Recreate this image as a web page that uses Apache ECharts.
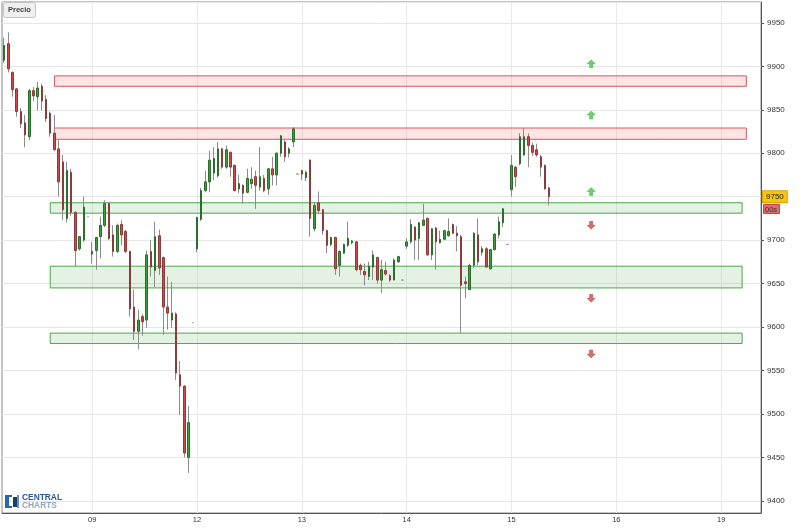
<!DOCTYPE html>
<html><head><meta charset="utf-8">
<script src="https://cdn.jsdelivr.net/npm/echarts@6/dist/echarts.min.js"></script>
<style>html,body{margin:0;padding:0;background:#fff}#c{width:806px;height:528px}</style>
</head><body><div id="c"></div>
<script>
// ---- data ----
const dayLabels = ['08','09','12','13','14','15','16','19'];
const slotsPerDay = [21,25,25,25,25,25,25,10];
const opens = [9907,9926,9893,9874,9848,9835,9819,9872,9865,9877,9862,9846,9823,9805,9790,9725,9778,9732,9690,9700,9727,
9684,9688,9704,9717,9742,9706,9687,9718,9710,9687,9623,9595,9612,9608,9687,9665,9705,9680,9623,9608,9615,9545,9532,9450,9605,
9690,9724,9757,9767,9777,9774,9805,9784,9801,9786,9759,9763,9755,9765,9773,9761,9771,9759,9782,9775,9800,9813,9800,9813,9776,
9780,9772,9792,9713,9743,9735,9711,9695,9703,9671,9685,9694,9697,9698,9671,9664,9658,9669,9680,9654,9665,9659,9654,9675,9654,
9693,9698,9715,9702,9717,9725,9683,9714,9697,9701,9705,9718,9708,9704,9652,9643,9671,9706,9686,9690,9667,9689,9706,9720,9695,
9758,9784,9788,9798,9819,9809,9804,9796,9786,9760];
const closes = [9924,9897,9873,9848,9834,9821,9872,9866,9875,9860,9840,9823,9804,9767,9735,9780,9732,9688,9704,9738,9727,
9687,9703,9717,9742,9702,9687,9717,9706,9687,9621,9595,9608,9606,9683,9669,9704,9668,9623,9616,9616,9547,9532,9455,9490,9605,
9726,9757,9767,9792,9794,9805,9784,9804,9784,9757,9765,9754,9771,9770,9763,9773,9757,9782,9775,9800,9820,9796,9805,9828,9776,
9776,9778,9725,9740,9734,9711,9694,9703,9667,9687,9695,9702,9699,9666,9666,9660,9670,9683,9654,9666,9661,9654,9677,9681,9654,
9698,9718,9700,9720,9723,9683,9713,9698,9701,9711,9710,9708,9705,9648,9650,9671,9708,9675,9690,9669,9689,9707,9721,9736,9695,
9786,9773,9819,9819,9809,9801,9798,9784,9759,9750];
const lows = [9904,9893,9865,9842,9829,9807,9815,9860,9849,9849,9836,9819,9803,9750,9723,9720,9728,9669,9688,9698,9727,
9673,9666,9679,9715,9700,9681,9685,9694,9685,9612,9585,9574,9590,9599,9658,9646,9660,9591,9597,9599,9539,9499,9450,9432,9605,
9686,9722,9755,9755,9769,9772,9782,9782,9773,9756,9754,9742,9754,9759,9736,9757,9755,9752,9763,9763,9796,9790,9795,9807,9776,
9769,9768,9704,9710,9731,9706,9685,9693,9660,9658,9684,9692,9695,9664,9660,9648,9654,9654,9650,9639,9659,9652,9654,9674,9654,
9690,9696,9677,9677,9716,9682,9677,9666,9696,9700,9704,9707,9687,9593,9633,9643,9668,9671,9682,9668,9666,9688,9702,9715,9695,
9750,9761,9786,9797,9784,9797,9796,9773,9758,9740];
const highs = [9933,9939,9894,9875,9852,9844,9874,9876,9882,9880,9867,9848,9844,9815,9798,9790,9782,9733,9705,9750,9727,
9698,9704,9727,9746,9744,9717,9719,9723,9712,9688,9643,9620,9615,9688,9700,9721,9712,9681,9658,9652,9617,9561,9533,9509,9605,
9727,9760,9780,9803,9807,9813,9806,9809,9802,9787,9775,9764,9782,9784,9780,9807,9775,9783,9796,9801,9821,9815,9807,9830,9776,
9781,9780,9793,9744,9756,9736,9712,9704,9704,9688,9696,9721,9700,9699,9673,9673,9675,9688,9681,9677,9675,9661,9679,9682,9654,
9702,9724,9716,9721,9742,9726,9714,9715,9711,9712,9725,9719,9716,9706,9658,9673,9709,9725,9693,9692,9690,9708,9727,9737,9695,
9798,9785,9823,9829,9823,9812,9811,9798,9787,9761];
const zoneLow  = [9877, 9816, 9731, 9645, 9581];
const zoneHigh = [9889, 9829, 9743, 9670, 9593];
const zoneKind = ['res','res','sup','sup','sup'];
const zoneStartSlot = [12, 12, 11, 11, 11];
const zoneEndSlot   = [177, 177, 176, 176, 176];
const arrowSlot = 140;
const arrowUpLevels = [9903, 9844, 9756];
const arrowDownLevels = [9717, 9633, 9569];
const countdownText = '00s';

// ---- build ----
const categories = [];
dayLabels.forEach((d, i) => {
  const n = slotsPerDay[i];
  const first = 25 - n > 0 && i === 0 ? 25 - n : 0;
  for (let k = 0; k < n; k++) categories.push(d + ':' + (first + k));
});
const isDayStart = (idx, v) => String(v).split(':')[1] === '0';
const wickData = opens.map((o, i) => [o, closes[i], lows[i], highs[i]]);
const bodyData = opens.map((o, i) => [o, closes[i], Math.min(o, closes[i]), Math.max(o, closes[i])]);
const zoneStyle = {
  res: {color: 'rgba(245,110,110,0.18)', borderColor: '#e05555', borderWidth: 1},
  sup: {color: 'rgba(90,175,90,0.16)', borderColor: '#4ea64e', borderWidth: 1}
};
const zones = zoneLow.map((lo, i) => [
  {xAxis: zoneStartSlot[i], yAxis: zoneHigh[i], itemStyle: zoneStyle[zoneKind[i]]},
  {xAxis: zoneEndSlot[i], yAxis: lo}
]);
const upArrow = 'path://M4,0 L8,4 L5.6,4 L5.6,8 L2.4,8 L2.4,4 L0,4 Z';
const downArrow = 'path://M2.4,0 L5.6,0 L5.6,4 L8,4 L4,8 L0,4 L2.4,4 Z';
const lastClose = closes[closes.length - 1];

const chart = echarts.init(document.getElementById('c'), null, {renderer: 'canvas'});
chart.setOption({
  animation: false,
  backgroundColor: '#ffffff',
  grid: {left: 2, right: 45, top: 2, bottom: 15, show: true, borderColor: '#8a8a8a', borderWidth: 1, backgroundColor: 'transparent'},
  xAxis: {
    type: 'category', data: categories, boundaryGap: true,
    axisLine: {lineStyle: {color: '#555', width: 1}},
    axisTick: {show: false},
    axisLabel: {interval: isDayStart, formatter: v => v.split(':')[0], fontSize: 7.5, color: '#333', margin: 3, fontFamily: 'Liberation Sans, Arial, sans-serif'},
    splitLine: {show: true, interval: isDayStart, alignWithLabel: true, lineStyle: {color: '#e9e9e9', width: 1}}
  },
  yAxis: {
    type: 'value', position: 'right', min: 9386, max: 9974, splitNumber: 12, minInterval: 50, maxInterval: 50,
    axisLine: {show: true, lineStyle: {color: '#555', width: 1}},
    axisTick: {show: true, length: 3, lineStyle: {color: '#555'}},
    axisLabel: {fontSize: 8, color: '#333', margin: 6, showMinLabel: false, showMaxLabel: false, formatter: v => String(v), fontFamily: 'Liberation Sans, Arial, sans-serif'},
    splitLine: {show: true, lineStyle: {color: '#e6e6e6', width: 1}}
  },
  series: [
    {
      type: 'candlestick', name: 'wick', data: wickData, barWidth: 1, silent: true, z: 2,
      itemStyle: {color: '#8c8c8c', color0: '#8c8c8c', borderColor: '#8c8c8c', borderColor0: '#8c8c8c', borderColorDoji: '#8c8c8c', borderWidth: 1},
      markArea: {silent: true, z: 1, data: zones}
    },
    {
      type: 'candlestick', name: 'body', data: bodyData, barWidth: 2, silent: true, z: 3,
      itemStyle: {color: '#37a237', color0: '#cf4747', borderColor: '#2b6e2b', borderColor0: '#8d3a3a', borderColorDoji: '#8c8c8c', borderWidth: 1},
      markLine: {
        silent: true, symbol: ['none', 'none'],
        lineStyle: {color: 'transparent', width: 0},
        label: {show: true, position: 'end', distance: 2, formatter: p => String(Math.round(p.value)),
          backgroundColor: '#f6c511', borderColor: '#d6a300', borderWidth: 1, padding: [2, 3, 1, 3],
          color: '#222', fontSize: 8, fontFamily: 'Liberation Sans, Arial, sans-serif'},
        data: [{yAxis: lastClose}]
      }
    },
    {
      type: 'scatter', name: 'up', symbol: upArrow, symbolSize: [8, 8], silent: true, z: 4,
      itemStyle: {color: '#45c845', borderColor: '#2f9a2f', borderWidth: 0.5},
      data: arrowUpLevels.map(v => [arrowSlot, v])
    },
    {
      type: 'scatter', name: 'down', symbol: downArrow, symbolSize: [8, 8], silent: true, z: 4,
      itemStyle: {color: '#d04848', borderColor: '#a83030', borderWidth: 0.5},
      data: arrowDownLevels.map(v => [arrowSlot, v])
    }
  ],
  graphic: [
    {type: 'rect', left: 3, top: 2, shape: {width: 32, height: 15, r: 2}, style: {fill: '#efefef', stroke: '#c4c4c4', lineWidth: 1}, z: 10},
    {type: 'text', left: 8, top: 6, style: {text: 'Precio', font: 'bold 7.5px Liberation Sans, Arial, sans-serif', fill: '#444'}, z: 11},
    {type: 'rect', left: 763, top: 204, shape: {width: 16, height: 9}, style: {fill: '#e26a6a', stroke: '#c04a4a', lineWidth: 1}, z: 10},
    {type: 'text', left: 765, top: 205.5, style: {text: countdownText, font: '7.5px Liberation Sans, Arial, sans-serif', fill: '#333'}, z: 11},
    {type: 'rect', left: 5, top: 495, shape: {width: 4, height: 13}, style: {fill: '#2467b3'}, z: 10},
    {type: 'rect', left: 9, top: 495, shape: {width: 3, height: 2}, style: {fill: '#2467b3'}, z: 10},
    {type: 'rect', left: 9, top: 506, shape: {width: 3, height: 2}, style: {fill: '#2467b3'}, z: 10},
    {type: 'rect', left: 13, top: 497, shape: {width: 4, height: 10}, style: {fill: '#1a3d6e'}, z: 10},
    {type: 'rect', left: 17, top: 495, shape: {width: 2, height: 13}, style: {fill: '#6d8fbf'}, z: 10},
    {type: 'text', left: 22, top: 494, style: {text: 'CENTRAL', font: 'bold 8.4px Liberation Sans, Arial, sans-serif', fill: '#24599c'}, z: 10},
    {type: 'text', left: 22, top: 502, style: {text: 'CHARTS', font: 'bold 8.4px Liberation Sans, Arial, sans-serif', fill: '#95a5b8'}, z: 10}
  ]
});
</script>
</body></html>
